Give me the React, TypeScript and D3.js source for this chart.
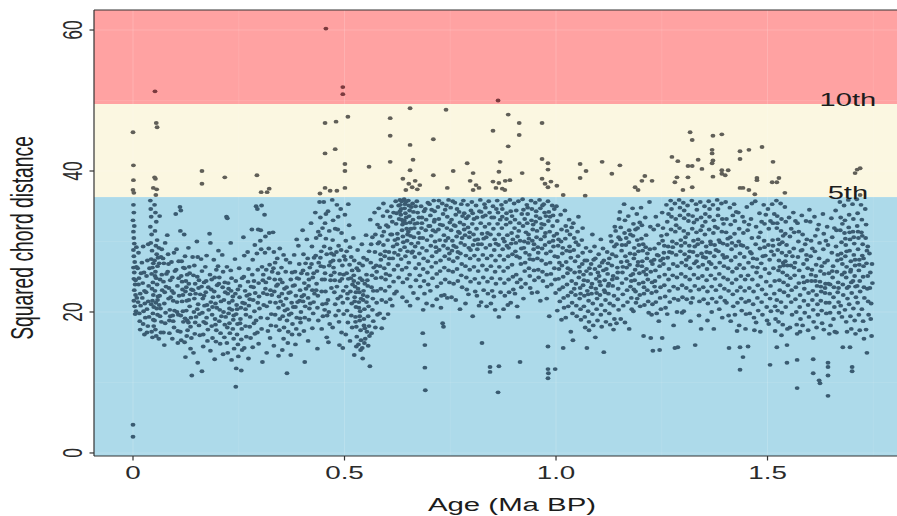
import React from 'react';
import * as d3 from 'd3';

// ---- Data: samples as "ageKa:squaredChordDistance" tokens ----
const aboveFifth = `0:45.5 1:40.8 1:38.7 0:37.3 2:36.9 48:37.6 51:39.1 53:38.9 56:37.4 55:46.8 57:46.2 52:51.3 54:36.6 163:40.0 163:38.2 217:39.1 293:39.4 303:37.0 317:37.0 322:37.5 442:36.8 454:46.8 456:60.2 454:42.5 454:37.6 466:37.2 478:43.1 480:47.0 482:37.2 496:51.9 496:50.9 501:41.0 501:40.0 501:37.6 508:47.7 558:40.6 608:47.5 608:45.0 608:41.3 638:38.9 645:37.3 652:38.2 655:48.9 655:43.7 655:40.1 660:37.7 662:41.6 667:38.6 672:37.4 678:38.0 710:44.5 710:39.4 740:48.7 743:37.6 757:40.0 790:41.1 797:38.6 804:39.7 804:37.3 811:38.0 818:37.6 851:45.7 851:38.5 858:37.6 863:50.0 865:39.9 865:38.3 868:41.3 873:37.5 879:37.3 880:38.6 887:48.0 887:43.5 891:38.7 913:46.8 913:45.1 920:39.7 967:46.8 967:41.7 967:38.9 974:38.2 981:41.1 981:40.2 981:37.7 988:38.5 1002:37.9 1017:36.6 1057:41.0 1057:39.0 1069:36.5 1071:40.0 1109:41.3 1132:39.6 1151:40.8 1187:37.7 1194:37.3 1203:38.6 1210:39.3 1227:38.6 1274:42.0 1281:38.4 1286:39.1 1288:41.4 1300:37.3 1312:40.7 1312:39.1 1317:45.5 1322:44.4 1322:40.7 1322:37.7 1336:41.6 1345:40.3 1369:42.5 1369:43.0 1369:41.1 1371:45.0 1371:41.5 1371:39.2 1392:45.2 1392:40.1 1392:39.6 1400:39.4 1407:40.1 1435:42.8 1435:41.7 1435:37.6 1442:37.6 1456:43.0 1456:37.3 1470:36.7 1475:39.0 1475:38.7 1487:43.4 1511:38.4 1513:41.3 1522:38.4 1527:39.0 1541:36.9 1707:39.7 1712:40.2 1719:40.4 1719:36.6`;

const earlySamples = `0:2.3 0:4.0 1:35.2 2:34.1 0:33.0 3:32.2 1:31.4 2:30.5 3:29.7 1:28.8 2:27.9 4:27.1 1:26.3 3:25.6 2:24.7 5:23.9 3:23.1 6:22.4 2:21.6 4:20.8 7:20.1 5:19.7 8:26.4 6:24.5 9:22.0 8:29.2
11:26.2 13:23.9 12:21.4 15:19.8 14:24.8 17:22.6 16:18.7 18:20.9 19:25.5 13:28.4 17:17.5
21:27.0 23:24.1 22:22.0 25:20.1 24:18.3 27:23.0 26:25.6 28:21.2 29:19.2 27:16.8 24:29.3
31:22.8 33:20.4 32:25.1 35:18.0 34:27.3 37:23.7 36:21.5 38:19.3 39:26.2 33:17.1 36:29.6
41:35.8 42:34.6 43:33.5 41:32.1 44:31.0 42:29.8 45:28.7 43:27.5 46:26.3 44:25.4 47:24.2 45:23.3 48:22.4 46:21.6 49:20.7 47:19.8 48:18.9 49:18.0 44:17.2 46:16.4 43:21.1 48:26.9
51:35.2 53:34.1 55:32.8 52:31.5 57:30.2 54:29.4 56:28.2 51:27.3 58:26.5 53:25.7 55:24.8 57:23.9 52:23.0 59:22.2 54:21.3 56:20.5 58:19.6 51:18.8 53:17.5 55:16.6 59:27.7 58:21.7 52:25.1
61:29.1 62:26.9 64:24.6 63:22.3 65:20.5 67:18.6 66:17.1 68:25.3 69:23.1 62:21.0 64:19.4 66:27.8 61:16.2 68:28.9 63:33.6
71:27.6 73:26.9 72:24.3 75:22.8 74:21.2 77:19.9 76:18.4 78:23.6 79:25.4 72:17.1 74:15.3 76:29.8
81:30.9 83:28.2 82:25.7 85:23.4 84:21.9 87:20.3 86:18.8 88:24.5 89:22.1 84:26.8 86:17.0 88:19.4
91:27.1 93:24.9 92:23.0 95:21.6 94:19.5 97:17.8 96:22.7 98:20.2 99:25.8 93:16.2 97:28.4 95:18.7
101:33.9 103:28.9 102:26.0 105:23.7 104:21.4 107:19.6 106:17.3 108:24.8 109:22.3 104:20.0 106:15.6 108:27.2
111:34.9 113:34.4 112:31.5 115:27.2 114:25.1 117:23.2 116:21.5 118:20.1 119:18.6 112:17.2 114:16.0 116:24.3 118:22.4 113:19.5 119:26.3
121:31.0 123:27.9 122:26.2 125:24.4 124:22.9 127:21.6 126:20.2 128:18.8 129:17.4 122:15.7 124:13.6 126:23.5 128:25.3 123:19.1 127:16.6
131:29.1 133:26.4 132:24.0 135:22.5 134:20.8 137:19.2 136:17.9 138:16.3 139:11.0 132:21.7 134:25.5 136:14.8 138:23.2 131:18.5
141:27.8 143:25.2 142:23.1 145:21.9 144:20.0 147:18.5 146:16.9 148:22.6 149:19.3 143:14.2 145:26.6 147:24.0
151:30.0 153:27.8 152:25.0 155:23.4 154:21.1 157:19.7 156:18.1 158:16.7 159:22.5 153:12.8 156:24.5 152:20.4
161:27.5 163:25.8 162:23.6 165:21.9 164:19.9 167:18.6 166:16.8 168:24.2 169:20.9 163:11.6 166:15.1 168:22.3
171:26.4 173:24.4 172:22.8 175:21.0 174:19.2 177:17.5 176:15.9 178:23.5 179:20.3 174:28.0 172:18.4
181:31.1 183:29.8 182:25.3 185:23.2 184:21.4 187:19.6 186:18.0 188:16.3 189:22.1 183:14.5 186:24.6 188:20.7
191:27.4 193:24.9 192:22.9 195:21.2 194:19.0 197:17.4 196:15.8 198:20.6 199:23.8 193:13.3 197:26.0 195:18.2
201:26.5 203:24.0 202:22.2 205:20.3 204:18.7 207:17.0 206:15.5 208:21.5 209:19.4 204:24.9 202:28.7
211:28.1 213:25.7 212:23.5 215:21.7 214:20.0 217:18.2 216:16.4 218:22.8 219:19.3 213:14.0 217:24.2
221:33.5 223:33.3 222:26.4 225:24.1 224:22.6 227:21.3 226:19.8 228:18.4 229:17.0 222:15.6 224:14.2 226:23.3 228:20.5 223:17.8
231:29.8 233:24.8 232:23.0 235:21.6 234:20.3 237:18.9 236:17.6 238:16.2 239:14.8 233:13.2 236:22.2 238:19.5 231:25.9
241:27.5 243:24.4 242:22.6 245:21.0 244:19.7 247:18.3 246:16.8 248:15.4 249:13.7 243:9.4 246:20.4 248:23.2 244:12.0
251:26.2 253:23.7 252:22.1 255:20.6 254:19.0 257:17.6 256:16.1 258:14.6 259:21.3 253:18.4 256:11.7 258:24.8
261:30.6 263:28.0 262:25.0 265:23.0 264:21.2 267:19.6 266:18.0 268:16.5 269:22.3 263:14.9 266:20.4
271:28.5 273:26.1 272:24.3 275:22.5 274:20.9 277:19.3 276:17.9 278:16.3 279:23.6 273:13.4 276:21.8
281:31.7 283:27.4 282:25.3 285:23.5 284:21.7 287:20.1 286:18.4 288:16.9 289:22.7 283:15.0 286:24.4 288:29.5
291:35.0 294:34.6 296:31.7 293:28.3 295:26.0 297:24.1 298:22.2 299:20.5 291:18.8 294:17.1 297:15.5 295:21.3
304:35.1 302:31.6 303:28.9 305:26.4 307:24.5 308:22.7 309:21.0 302:19.2 304:17.6 306:12.9 308:25.3 301:30.1
313:30.7 312:28.4 315:26.0 314:24.2 317:22.5 316:20.8 318:19.1 319:17.3 313:23.3 316:14.2 311:33.8
321:29.0 323:26.7 322:24.8 325:23.1 324:21.4 327:19.7 326:18.1 328:22.4 329:25.7 324:16.3 322:31.2
331:31.3 333:28.5 332:26.2 335:24.6 334:22.9 337:21.3 336:19.6 338:18.0 339:23.7 333:15.2 336:27.0
341:27.6 343:25.5 342:23.9 345:22.2 344:20.6 347:19.0 346:17.4 348:24.6 349:21.5 344:13.8 347:29.0
351:26.3 353:24.2 352:22.6 355:21.0 354:19.4 357:17.8 356:16.2 358:23.3 359:20.2 353:14.6 356:28.1
361:25.7 363:23.5 362:21.9 365:20.4 364:18.8 367:17.2 366:15.6 368:22.7 369:19.6 364:11.3 362:27.4
371:27.0 373:24.6 372:22.8 375:21.3 374:19.8 377:18.3 376:16.8 378:23.7 379:20.7 373:13.9 376:25.6
381:28.1 383:25.7 382:23.8 385:22.3 384:20.7 387:19.2 386:17.6 388:24.8 389:21.4 384:15.4 387:30.3
391:29.4 393:26.8 392:24.7 395:23.1 394:21.6 397:20.0 396:18.5 398:25.5 399:22.2 393:16.8 395:19.1
401:31.6 403:28.2 402:25.9 405:24.1 404:22.4 407:20.8 406:19.2 408:26.9 409:23.3 404:17.3 406:12.9 402:21.5
411:30.3 413:27.6 412:25.4 415:23.7 414:22.0 417:20.5 416:18.9 418:26.3 419:21.2 414:15.9 416:24.6
421:32.6 423:29.3 422:26.8 425:24.9 424:23.1 427:21.4 426:19.8 428:27.7 429:22.6 424:17.7 427:25.5
431:34.1 433:30.5 432:28.0 435:25.8 434:24.0 437:22.3 436:20.6 438:18.8 439:27.0 433:23.1 436:14.8 438:31.4
441:35.6 443:33.4 442:30.9 445:28.6 444:26.5 447:24.6 446:22.9 448:21.1 449:19.4 443:27.7 446:17.6 448:31.9`;

const middleSamples = `451:35.6 454:32.6 456:30.4 458:28.2 451:26.4 453:24.6 455:22.9 457:21.2 459:19.5 452:29.3 454:25.5 458:16.4 456:33.9 453:20.3
461:34.3 464:31.5 466:29.0 467:27.1 468:25.2 469:23.4 461:21.7 463:20.0 465:18.3 467:24.5 469:28.3 462:15.7 464:26.6
471:35.9 473:33.0 472:30.2 475:28.1 474:26.3 477:24.5 476:22.8 478:21.1 479:19.5 473:27.3 476:25.6 472:17.8 478:31.8
482:35.2 484:31.7 486:29.4 488:27.3 489:25.4 482:23.6 484:21.9 486:20.2 488:15.3 489:24.4 481:28.5 485:33.5 487:18.6
491:34.6 493:31.2 492:28.8 495:26.6 494:24.7 497:23.0 496:21.3 498:19.7 499:27.9 493:17.1 496:14.9 498:25.3 491:22.2
501:33.8 503:30.1 502:27.4 505:25.5 504:23.6 507:21.9 506:20.2 508:18.5 509:24.7 503:16.8 505:28.6 507:22.6 509:35.3
511:32.3 513:29.2 512:26.7 515:24.8 514:22.9 517:21.2 516:19.5 518:17.8 519:23.9 513:15.9 516:27.8 518:25.9
521:30.5 523:27.3 522:25.2 525:23.6 524:22.1 527:20.7 526:19.3 528:17.9 529:16.5 522:24.4 524:21.5 526:18.6 528:15.1 523:13.9 527:22.8 529:26.2
531:28.8 533:25.9 532:24.1 535:22.8 534:21.4 537:20.1 536:18.8 538:17.4 539:16.0 532:23.3 534:20.6 536:19.4 538:14.6 533:15.4 537:24.8 535:26.9 539:21.9
541:29.6 543:26.6 542:24.5 545:23.0 544:21.7 547:20.4 546:19.0 548:17.7 549:16.2 542:14.9 544:22.4 546:18.1 548:24.0 543:13.4 547:15.6 545:27.7
551:30.9 553:27.4 552:25.3 555:23.7 554:22.2 557:20.8 556:19.4 558:18.0 559:16.6 552:21.4 554:24.5 556:15.2 558:28.6 553:17.2
561:33.1 563:29.6 562:27.0 565:25.2 564:23.5 567:21.9 566:20.3 568:18.7 569:26.3 560:12.3 564:17.0 566:30.6 568:23.0
571:34.1 573:31.0 572:28.5 575:26.6 574:24.8 577:23.0 576:21.3 578:19.6 579:29.7 573:17.8 576:25.7 578:32.4
581:34.7 583:32.0 582:29.9 585:28.2 584:26.5 587:24.9 586:23.3 588:21.7 589:30.8 583:19.8 586:27.4 588:17.7
591:33.6 593:31.4 592:29.5 595:27.9 594:26.2 597:24.6 596:23.0 598:21.4 599:32.3 593:19.1 596:28.6 598:25.4 592:35.4
601:34.3 603:32.1 602:30.2 605:28.5 604:26.8 607:25.2 606:23.6 608:21.8 609:31.0 603:19.7 606:27.6 608:33.5
611:35.0 613:32.8 612:31.0 615:29.3 614:27.6 617:26.0 616:24.3 618:22.6 619:30.2 613:20.9 616:34.1 618:28.4
621:35.7 623:34.0 622:32.5 625:31.1 624:29.6 627:28.1 626:26.6 628:24.9 629:33.2 623:22.9 626:30.4 628:35.1
631:35.9 632:35.2 634:34.6 633:33.8 635:33.1 637:32.4 636:31.6 638:30.7 639:29.9 632:28.8 634:27.5 636:26.0 638:24.2 631:34.3 635:35.7 637:22.1 639:32.8
641:36.0 643:35.3 642:34.7 644:34.0 646:33.4 645:32.6 647:31.8 649:31.0 648:30.1 642:29.2 644:27.9 646:26.3 648:24.7 641:33.0 645:35.6 647:21.5 649:28.6
651:35.8 652:35.1 654:34.4 653:33.6 655:32.7 657:31.8 656:30.8 658:29.7 659:28.4 652:27.0 654:25.3 656:23.6 658:34.9 651:31.4 655:20.9
661:35.4 663:34.2 662:33.1 665:31.9 664:30.6 667:29.3 666:27.8 668:26.2 669:24.5 663:22.7 666:32.5 668:35.0 661:28.6
671:35.7 673:34.1 672:32.6 675:31.2 674:29.8 677:28.3 676:26.8 678:25.2 679:23.6 673:21.9 676:33.4 678:30.5
681:35.0 683:33.4 682:31.9 685:30.5 684:29.1 687:27.6 686:26.1 688:24.4 689:22.6 683:32.6 686:20.3 688:34.3 685:17.0
691:34.6 693:33.1 692:31.6 695:30.2 694:28.7 697:27.2 696:25.6 698:23.9 699:32.2 690:15.3 690:12.1 691:8.9 694:21.2 697:35.5
701:35.3 703:33.7 702:32.2 705:30.8 704:29.4 707:27.9 706:26.4 708:24.8 709:31.6 703:23.0 706:34.5 708:20.9
711:35.8 713:34.3 712:32.8 715:31.4 714:30.0 717:28.5 716:27.0 718:25.4 719:23.6 713:33.1 716:29.2 718:21.8
721:34.9 723:33.2 722:31.7 725:30.2 724:28.8 727:27.3 726:25.8 728:24.1 729:22.3 723:35.8 726:32.4 728:20.6
731:35.4 733:33.9 732:32.3 735:30.9 734:29.4 737:27.9 736:26.3 738:24.6 739:30.1 732:18.4 734:17.9 736:22.4 738:34.5
741:35.1 743:33.5 742:31.9 745:30.5 744:29.0 747:27.5 746:25.9 748:24.2 749:32.7 743:22.0 746:35.9 748:28.3
751:34.8 753:33.1 752:31.6 755:30.1 754:28.7 757:27.2 756:25.7 758:24.0 759:32.3 753:22.1 756:35.7 758:29.4
761:35.5 763:33.8 762:32.2 765:30.7 764:29.2 767:27.7 766:26.1 768:24.4 769:31.4 763:21.7 766:34.6 768:28.5
771:34.2 773:32.7 772:31.2 775:29.8 774:28.3 777:26.8 776:25.2 778:23.5 779:33.6 773:20.4 776:35.3 778:30.5
781:35.8 783:34.0 782:32.4 785:30.9 784:29.5 787:28.0 786:26.5 788:24.9 789:23.2 783:31.7 786:21.2 788:33.3
791:35.2 793:33.6 792:32.0 795:30.6 794:29.1 797:27.6 796:26.0 798:24.3 799:34.4 793:22.5 796:31.3 798:28.8
801:35.6 803:34.0 802:32.5 805:31.0 804:29.5 807:28.0 806:26.4 808:24.7 809:22.9 803:19.4 806:33.2 808:30.2
811:35.1 813:33.4 812:31.8 815:30.3 814:28.9 817:27.4 816:25.8 818:24.1 819:34.3 813:22.3 816:29.6 818:20.9
821:35.9 823:34.2 822:32.6 825:31.1 824:29.6 827:28.1 826:26.6 828:24.9 829:23.1 825:15.6 823:21.4 827:33.5 829:30.4
831:35.3 833:33.7 832:32.1 835:30.6 834:29.1 837:27.6 836:26.0 838:24.3 839:22.6 833:34.8 836:20.8 838:31.2
841:35.7 843:34.1 842:32.5 845:31.0 844:29.5 847:28.0 846:26.5 848:24.8 849:23.0 844:12.2 844:11.5 846:21.2 848:33.4
851:35.0 853:33.4 852:31.8 855:30.3 854:28.8 857:27.3 856:25.7 858:24.0 859:34.6 853:22.2 856:20.3 858:29.7
861:35.8 863:34.1 862:32.5 865:31.0 864:29.5 867:28.0 866:26.4 868:24.7 869:22.8 865:12.3 863:8.6 865:19.3 868:33.1
871:35.2 873:33.5 872:31.9 875:30.4 874:28.9 877:27.4 876:25.8 878:24.1 879:22.3 873:34.6 876:20.4 878:30.0
881:35.6 883:34.0 882:32.4 885:30.9 884:29.4 887:27.9 886:26.3 888:24.6 889:22.8 883:33.2 886:21.0 888:29.1
891:35.9 893:34.3 892:32.7 895:31.2 894:29.7 897:28.2 896:26.7 898:25.0 899:23.2 893:21.3 896:33.6 898:30.3
901:35.4 903:33.1 902:31.9 905:29.8 904:28.6 907:27.9 906:25.3 908:24.2 909:30.7 903:22.6 906:34.4 908:20.8
911:35.7 913:32.6 912:31.5 915:30.1 914:27.7 917:26.8 916:24.6 918:23.5 919:33.9 915:12.9 910:19.3 918:29.0
921:36.0 923:34.5 922:32.2 925:30.0 924:29.1 927:27.0 926:25.8 928:24.0 929:31.3 923:21.9 926:33.2 928:28.4
931:35.2 933:33.9 932:32.6 935:31.0 934:29.8 937:28.1 936:26.2 938:25.1 939:23.4 933:34.8 936:30.4 938:27.5
941:35.8 943:34.6 942:33.0 945:31.7 944:30.1 947:28.9 946:27.4 948:25.9 949:24.5 943:22.7 946:32.4 948:29.6
951:35.5 953:34.3 952:32.8 955:31.5 954:30.6 957:29.2 956:27.6 958:26.0 959:24.9 953:33.6 956:22.8 958:28.4
961:35.9 963:34.7 962:33.3 965:31.9 964:30.3 967:29.0 966:27.3 968:25.7 969:24.4 963:21.6 966:32.5 968:35.1
971:35.3 973:34.1 972:32.4 975:31.2 974:29.5 977:28.3 976:26.8 978:25.3 979:23.6 973:30.7 976:33.6 978:21.9
981:35.7 983:34.2 982:32.9 985:31.4 984:29.9 987:28.6 986:27.0 988:25.4 989:23.9 981:15.1 981:11.9 982:11.3 981:10.6 984:19.4 986:33.5
991:35.1 993:33.7 992:32.2 995:30.8 994:29.3 997:27.9 996:26.2 998:24.6 999:22.7 998:11.9 993:30.1 996:34.6`;

const lateSamples = `1001:35.0 1003:32.9 1002:31.1 1005:29.4 1004:27.8 1007:26.1 1006:24.7 1008:23.2 1009:21.5 1003:20.2 1006:30.3 1008:27.0
1011:33.8 1013:31.7 1012:30.0 1015:28.3 1014:26.6 1017:25.0 1016:23.5 1018:22.0 1019:20.6 1017:14.9 1013:18.9 1016:29.1
1021:34.4 1023:32.2 1022:30.4 1025:28.7 1024:27.1 1027:25.5 1026:23.9 1028:22.3 1029:20.8 1023:19.2 1026:31.5 1028:26.2
1031:33.1 1033:31.0 1032:29.3 1035:27.7 1034:26.0 1037:24.4 1036:22.8 1038:21.3 1039:19.8 1035:17.2 1033:28.6 1037:32.0
1041:32.6 1043:30.5 1042:28.8 1045:27.2 1044:25.6 1047:24.0 1046:22.4 1048:20.9 1049:19.4 1040:16.0 1043:23.3 1047:29.9
1051:31.4 1053:29.5 1052:27.9 1055:26.4 1054:24.9 1057:23.4 1056:21.9 1058:20.4 1059:18.9 1053:33.5 1056:25.7 1058:22.6
1061:30.2 1063:28.4 1062:26.8 1065:25.3 1064:23.8 1067:22.3 1066:20.8 1068:19.3 1069:17.8 1063:31.9 1066:24.5 1068:27.3
1071:29.1 1073:27.3 1072:25.8 1075:24.4 1074:23.0 1077:21.6 1076:20.1 1078:18.6 1079:26.2 1073:14.9 1078:17.4 1076:22.5
1081:28.6 1083:26.8 1082:25.4 1085:24.0 1084:22.6 1087:21.2 1086:19.7 1088:18.1 1089:27.4 1083:23.5 1086:31.0
1091:29.3 1093:27.6 1092:26.1 1095:24.7 1094:23.3 1097:21.9 1096:20.4 1098:18.8 1099:25.6 1093:16.4 1096:22.7
1101:28.2 1103:26.5 1102:25.1 1105:23.8 1104:22.4 1107:21.0 1106:19.6 1108:17.9 1109:27.0 1103:24.3 1106:30.3
1111:29.0 1113:27.3 1112:25.9 1115:24.5 1114:23.1 1117:21.7 1116:20.2 1118:18.6 1119:26.1 1113:14.3 1116:22.8
1121:28.5 1123:26.9 1122:25.4 1125:24.0 1124:22.6 1127:21.2 1126:19.8 1128:18.2 1129:30.8 1123:23.7 1126:27.6
1131:30.0 1133:28.2 1132:26.6 1135:25.1 1134:23.7 1137:22.3 1136:20.9 1138:19.0 1139:32.1 1133:24.6 1136:17.5 1138:29.3
1141:31.5 1143:29.6 1142:27.9 1145:26.3 1144:24.8 1147:23.3 1146:21.8 1148:20.3 1149:33.2 1143:18.4 1146:25.6 1148:30.6
1151:34.2 1153:32.0 1152:30.3 1155:28.7 1154:27.1 1157:25.6 1156:24.1 1158:22.5 1159:20.9 1153:19.0 1156:29.5 1158:26.4
1161:35.3 1163:33.0 1162:31.2 1165:29.5 1164:27.9 1167:26.3 1166:24.7 1168:23.1 1169:21.4 1163:18.5 1166:30.5 1168:27.2
1171:33.6 1173:31.6 1172:29.9 1175:28.3 1174:26.7 1177:25.2 1176:23.6 1178:22.0 1179:20.4 1173:17.6 1176:31.0 1178:24.4
1181:34.7 1183:32.5 1182:30.8 1185:29.1 1184:27.6 1187:26.0 1186:24.5 1188:22.9 1189:21.3 1183:20.1 1186:28.2 1188:31.7 1182:25.4 1184:23.2
1191:33.9 1193:31.9 1192:30.2 1195:28.6 1194:27.1 1197:25.5 1196:24.0 1198:22.4 1199:20.8 1193:26.6 1196:29.5 1198:32.7 1192:21.9
1201:34.8 1203:32.3 1202:30.4 1205:28.7 1204:27.2 1207:25.7 1206:24.2 1208:22.6 1209:21.0 1207:16.6 1203:26.5 1206:29.6 1208:23.5
1211:33.4 1213:30.9 1212:29.2 1215:27.6 1214:26.1 1217:24.6 1216:23.1 1218:21.5 1219:19.9 1213:25.3 1216:28.3
1221:35.6 1223:32.1 1222:28.9 1225:27.2 1224:25.7 1227:24.2 1226:22.7 1228:21.1 1229:14.5 1224:16.3 1226:19.6 1228:26.8
1231:31.7 1233:29.0 1232:27.4 1235:25.9 1234:24.4 1237:22.9 1236:21.4 1238:19.8 1239:28.1 1233:23.6 1236:33.5
1241:32.3 1243:29.7 1242:28.0 1245:26.5 1244:25.0 1247:23.5 1246:22.0 1248:20.4 1249:30.8 1245:14.6 1243:18.7 1247:27.3
1251:34.1 1253:31.9 1252:30.1 1255:28.4 1254:26.8 1257:25.3 1256:23.8 1258:22.2 1259:20.6 1251:16.3 1253:27.6 1256:29.4
1261:35.2 1263:32.8 1262:31.0 1265:29.3 1264:27.7 1267:26.1 1266:24.6 1268:23.0 1269:21.4 1263:19.7 1266:33.9 1268:28.5
1271:35.8 1273:33.5 1272:31.7 1275:30.0 1274:28.4 1277:26.8 1276:25.2 1278:23.6 1279:21.9 1273:34.6 1276:29.2 1278:18.1
1281:35.4 1283:33.2 1282:31.4 1285:29.7 1284:28.1 1287:26.5 1286:24.9 1288:23.3 1289:21.7 1281:14.9 1288:15.0 1284:32.3 1286:20.0
1291:35.9 1293:33.7 1292:31.9 1295:30.2 1294:28.6 1297:27.0 1296:25.4 1298:23.8 1299:22.1 1293:34.8 1296:29.4 1298:19.9
1301:35.5 1303:33.3 1302:31.5 1305:29.8 1304:28.2 1307:26.6 1306:25.0 1308:23.4 1309:21.8 1303:34.4 1306:30.6 1308:27.4 1302:20.1
1311:35.1 1313:32.9 1312:31.1 1315:29.4 1314:27.8 1317:26.2 1316:24.6 1318:23.0 1319:21.3 1313:33.8 1316:28.6 1318:18.7
1321:35.8 1323:33.6 1322:31.8 1325:30.1 1324:28.5 1327:26.9 1326:25.3 1328:23.7 1329:15.3 1323:22.0 1326:32.7 1328:29.3
1331:35.3 1333:33.1 1332:31.3 1335:29.6 1334:28.0 1337:26.4 1336:24.8 1338:23.2 1339:21.5 1333:34.5 1336:30.3 1338:19.5 1332:27.2
1341:35.6 1343:33.4 1342:31.6 1345:29.9 1344:28.3 1347:26.7 1346:25.1 1348:23.5 1349:21.8 1343:17.6 1346:32.2 1348:27.8
1351:35.0 1353:32.8 1352:31.0 1355:29.3 1354:27.7 1357:26.1 1356:24.5 1358:22.9 1359:21.2 1353:33.9 1356:28.5 1358:18.8
1361:35.7 1363:33.5 1362:31.7 1365:30.0 1364:28.4 1367:26.8 1366:25.2 1368:23.6 1369:21.9 1363:34.6 1366:29.6 1368:20.0 1362:27.1
1371:35.2 1373:33.0 1372:31.2 1375:29.5 1374:27.9 1377:26.3 1376:24.7 1378:23.1 1379:21.4 1373:17.6 1376:32.1 1378:28.8
1381:35.9 1383:33.7 1382:31.9 1385:30.2 1384:28.6 1387:27.0 1386:25.4 1388:23.8 1389:22.1 1383:34.6 1386:20.4 1388:29.9
1391:35.4 1393:33.2 1392:31.4 1395:29.7 1394:28.1 1397:26.5 1396:24.9 1398:23.3 1399:21.6 1393:19.2 1396:32.5 1398:27.7
1401:35.6 1403:33.2 1402:31.3 1405:29.5 1404:27.8 1407:26.2 1406:24.6 1408:23.0 1409:14.9 1403:21.3 1406:30.4 1408:19.5
1411:34.8 1413:32.4 1412:30.6 1415:28.9 1414:27.3 1417:25.7 1416:24.1 1418:22.5 1419:20.8 1413:18.7 1416:29.8 1418:33.7
1421:35.3 1423:32.9 1422:31.1 1425:29.4 1424:27.8 1427:26.2 1426:24.6 1428:23.0 1429:21.3 1423:19.6 1426:34.2 1428:17.3
1431:34.1 1433:31.8 1432:30.0 1435:28.3 1434:26.7 1437:25.1 1436:23.5 1438:21.9 1439:20.2 1435:15.0 1435:11.8 1433:18.1 1437:29.5
1441:33.5 1443:31.2 1442:29.4 1445:27.8 1444:26.2 1447:24.6 1446:23.0 1448:21.4 1449:19.7 1442:13.6 1445:32.8 1448:17.6
1451:34.9 1453:31.6 1452:29.1 1455:27.0 1454:25.2 1457:23.4 1456:21.6 1458:19.8 1459:28.5 1454:15.1 1456:32.4
1461:33.2 1463:30.5 1462:28.3 1465:26.4 1464:24.6 1467:22.9 1466:21.1 1468:19.2 1469:17.4 1463:35.4 1466:27.6
1471:35.7 1473:32.1 1472:29.6 1475:27.5 1474:25.6 1477:23.8 1476:22.0 1478:20.2 1479:30.6 1473:18.5 1476:26.3
1481:34.0 1483:31.3 1482:29.0 1485:26.9 1484:25.0 1487:23.2 1486:21.4 1488:19.6 1489:27.9 1483:17.2 1486:32.8
1491:35.2 1493:32.5 1492:30.1 1495:28.0 1494:26.1 1497:24.3 1496:22.5 1498:20.7 1499:18.8 1493:29.2 1496:33.8
1501:34.6 1503:31.8 1502:29.5 1505:27.4 1504:25.5 1507:23.7 1506:21.9 1508:20.1 1509:28.6 1506:12.5 1503:18.3 1507:32.9
1511:35.3 1513:32.6 1512:30.2 1515:28.1 1514:26.2 1517:24.4 1516:22.6 1518:20.8 1519:19.0 1513:29.4 1516:33.9 1518:17.3
1521:35.8 1523:33.6 1522:31.9 1525:30.3 1524:28.8 1527:27.3 1526:25.9 1528:24.5 1529:23.1 1522:21.7 1524:20.2 1526:18.6 1528:29.6 1522:15.0 1529:26.4 1523:32.6
1531:35.4 1533:33.2 1532:31.5 1535:29.9 1534:28.4 1537:27.0 1536:25.6 1538:24.2 1539:22.8 1532:21.4 1534:19.9 1536:18.2 1538:26.6 1533:16.7 1537:30.8
1541:34.9 1543:32.8 1542:31.1 1545:29.5 1544:28.0 1547:26.6 1546:25.2 1548:23.8 1549:22.3 1546:12.8 1546:15.3 1543:20.7 1547:17.6 1542:27.2
1551:33.4 1553:30.7 1552:28.5 1555:26.6 1554:24.8 1557:23.1 1556:21.4 1558:19.6 1559:27.9 1553:17.8 1556:31.8
1561:34.1 1563:31.3 1562:29.0 1565:27.0 1564:25.2 1567:23.5 1566:21.8 1568:20.0 1569:18.2 1563:26.3 1566:32.9
1571:32.6 1573:30.0 1572:27.8 1575:25.9 1574:24.1 1577:22.4 1576:20.7 1578:19.0 1579:28.7 1570:9.2 1570:13.2 1570:16.9 1577:17.2 1574:31.4
1581:33.7 1583:31.0 1582:28.8 1585:26.8 1584:25.0 1587:23.3 1586:21.6 1588:19.9 1589:29.6 1583:18.1 1586:24.2
1591:32.9 1593:30.3 1592:28.1 1595:26.2 1594:24.4 1597:22.7 1596:21.0 1598:19.3 1599:34.5 1593:27.4 1596:17.4
1601:32.8 1603:30.1 1602:27.9 1605:26.0 1604:24.4 1607:23.0 1606:21.7 1608:20.3 1609:18.6 1608:13.3 1608:11.3 1608:16.3 1603:25.3 1606:29.0
1611:33.5 1613:30.8 1612:28.6 1615:26.7 1614:25.1 1617:23.7 1616:22.4 1618:21.1 1619:19.6 1613:24.4 1616:17.8 1618:31.7
1621:32.4 1623:29.8 1622:27.6 1625:25.8 1624:24.3 1627:22.9 1626:21.6 1628:20.2 1629:18.4 1622:10.3 1624:9.9 1626:23.6 1628:26.5
1631:33.9 1633:31.1 1632:28.9 1635:27.0 1634:25.4 1637:24.0 1636:22.7 1638:21.3 1639:19.8 1633:17.5 1636:23.4 1638:30.1
1641:32.1 1643:29.5 1642:27.3 1645:25.5 1644:24.0 1647:22.6 1646:21.3 1648:19.9 1649:18.1 1643:11.0 1643:12.8 1643:12.2 1643:8.1 1646:16.9 1648:23.9
1651:33.3 1653:30.6 1652:28.4 1655:26.5 1654:24.9 1657:23.5 1656:22.1 1658:20.7 1659:17.2 1653:25.8 1656:19.0 1658:31.9
1661:34.4 1663:31.6 1662:29.3 1665:27.3 1664:25.7 1667:24.2 1666:22.8 1668:21.4 1669:19.9 1663:17.1 1666:28.1 1668:23.4
1671:35.6 1673:33.4 1672:31.6 1675:29.9 1674:28.3 1677:26.8 1676:25.3 1678:23.9 1679:22.4 1678:15.0 1673:20.9 1676:19.3 1674:27.5 1677:32.5
1681:35.1 1683:33.0 1682:31.2 1685:29.5 1684:27.9 1687:26.4 1686:24.9 1688:23.4 1689:21.9 1683:20.3 1686:18.6 1688:17.2 1684:30.4 1687:28.6 1682:25.6
1691:35.9 1693:33.8 1692:32.0 1695:30.3 1694:28.7 1697:27.2 1696:25.7 1698:24.2 1699:22.7 1695:15.0 1693:21.1 1696:19.4 1698:17.6 1694:31.3 1697:26.0 1692:23.6
1701:35.3 1703:33.2 1702:31.4 1705:29.7 1704:28.1 1707:26.6 1706:25.1 1708:23.6 1709:22.1 1700:12.2 1700:11.6 1703:20.5 1706:18.8 1708:16.9 1704:30.6 1707:27.4 1702:24.4
1711:36.0 1713:34.0 1712:32.2 1715:30.5 1714:28.9 1717:27.4 1716:25.9 1718:24.4 1719:22.9 1713:21.3 1716:19.6 1718:17.4 1714:31.4 1717:26.7 1712:23.7
1721:35.2 1723:33.1 1722:31.3 1725:29.6 1724:28.0 1727:26.5 1726:25.0 1728:23.5 1729:22.0 1723:20.4 1726:18.7 1728:16.2 1724:30.8 1727:27.6
1731:34.6 1733:32.4 1732:30.5 1735:28.7 1734:26.9 1737:25.1 1736:23.3 1738:21.5 1739:19.6 1735:14.2 1733:17.5 1737:29.3
1741:28.3 1743:25.6 1742:23.4 1745:21.2 1744:19.0 1747:26.8 1746:16.6 1748:24.1`;

const yTicks = [0, 20, 40, 60];
const yMinorTicks = [10, 30, 50];
const xTicks = [0, 0.5, 1.0, 1.5];
const xTickLabels = ['0', '0.5', '1.0', '1.5'];
const xMinorTicks = [0.25, 0.75, 1.25, 1.75];
const bandNames = ['above10th', 'above5th', 'below5th'];
const bandLimits = [49.5, 36.3]; // 10th and 5th percentile thresholds
const bandFills = ['#FFA2A2', '#FBF7E1', '#ADDAEA'];
const pointFills = ['#7B3A3E', '#605F58', '#3A5B71'];
const thresholdLabels = ['10th', '5th'];

type Sample = { age: number; value: number };
const parseSamples = (txt: string): Sample[] =>
  txt.trim().split(/\s+/).map((tok) => {
    const [ka, v] = tok.split(':');
    return { age: +ka / 1000, value: +v };
  });

const samples: Sample[] = [
  ...parseSamples(earlySamples),
  ...parseSamples(middleSamples),
  ...parseSamples(lateSamples),
  ...parseSamples(aboveFifth),
];

const W = 897;
const H = 516;
const panel = { left: 94, right: 897, top: 10, bottom: 456 };
const FONT = "'Liberation Sans', Arial, Helvetica, sans-serif";
const SX = 1.58; // horizontal stretch of the reference's lettering

export default function App() {
  const x = d3.scaleLinear().domain([-0.0922, 1.8061]).range([panel.left, panel.right]);
  const y = d3.scaleLinear().domain([-0.43, 62.84]).range([panel.bottom, panel.top]);

  const bandEdges = [y.domain()[1], ...bandLimits, y.domain()[0]];
  const bandOf = (v: number) => (v >= bandLimits[0] ? 0 : v >= bandLimits[1] ? 1 : 2);

  return (
    <svg width={W} height={H} style={{ position: 'absolute', left: 0, top: 0, display: 'block' }} fontFamily={FONT}>
      <rect x={0} y={0} width={W} height={H} fill="#ffffff" />
      {bandNames.map((name, i) => (
        <rect
          key={name}
          x={panel.left}
          y={y(bandEdges[i])}
          width={panel.right - panel.left}
          height={y(bandEdges[i + 1]) - y(bandEdges[i])}
          fill={bandFills[i]}
        />
      ))}
      <g stroke="#ffffff" strokeOpacity={0.16}>
        {yMinorTicks.map((t) => (
          <line key={'ym' + t} x1={panel.left} x2={panel.right} y1={y(t)} y2={y(t)} strokeWidth={0.6} />
        ))}
        {yTicks.map((t) => (
          <line key={'yg' + t} x1={panel.left} x2={panel.right} y1={y(t)} y2={y(t)} strokeWidth={1.1} />
        ))}
        {xMinorTicks.map((t) => (
          <line key={'xm' + t} y1={panel.top} y2={panel.bottom} x1={x(t)} x2={x(t)} strokeWidth={0.6} />
        ))}
        {xTicks.map((t) => (
          <line key={'xg' + t} y1={panel.top} y2={panel.bottom} x1={x(t)} x2={x(t)} strokeWidth={1.1} />
        ))}
      </g>
      <g>
        {samples.map((s, i) => (
          <ellipse key={i} cx={x(s.age)} cy={y(s.value)} rx={2.4} ry={1.95} fill={pointFills[bandOf(s.value)]} />
        ))}
      </g>
      {bandLimits.map((lim, i) => (
        <text
          key={thresholdLabels[i]}
          transform={`translate(${x(1.69)},${y(lim) + 1.8}) scale(${SX},1)`}
          textAnchor="middle"
          fontSize={18.4}
          fill="#1c1c1c"
        >
          {thresholdLabels[i]}
        </text>
      ))}
      <g stroke="#333333" strokeWidth={1.2} fill="none">
        <line x1={panel.left} x2={panel.right} y1={panel.top} y2={panel.top} />
        <line x1={panel.left} x2={panel.left} y1={panel.top} y2={panel.bottom} />
        <line x1={panel.left} x2={panel.right} y1={panel.bottom} y2={panel.bottom} />
        {yTicks.map((t) => (
          <line key={'yt' + t} x1={panel.left - 4.5} x2={panel.left} y1={y(t)} y2={y(t)} />
        ))}
        {xTicks.map((t) => (
          <line key={'xt' + t} x1={x(t)} x2={x(t)} y1={panel.bottom} y2={panel.bottom + 4.5} />
        ))}
      </g>
      {yTicks.map((t) => (
        <text
          key={'yl' + t}
          transform={`translate(82,${y(t)}) scale(${SX},1) rotate(-90)`}
          textAnchor="middle"
          fontSize={17.4}
          fill="#2b2b2b"
        >
          {t}
        </text>
      ))}
      {xTicks.map((t, i) => (
        <text
          key={'xl' + t}
          transform={`translate(${x(t)},479) scale(${SX},1)`}
          textAnchor="middle"
          fontSize={17.6}
          fill="#2b2b2b"
        >
          {xTickLabels[i]}
        </text>
      ))}
      <text transform={`translate(512,511) scale(${SX},1)`} textAnchor="middle" fontSize={18.6} fill="#1c1c1c">
        Age (Ma BP)
      </text>
      <text transform={`translate(33,238) scale(${SX},1) rotate(-90)`} textAnchor="middle" fontSize={19.3} fill="#1c1c1c">
        Squared chord distance
      </text>
    </svg>
  );
}
